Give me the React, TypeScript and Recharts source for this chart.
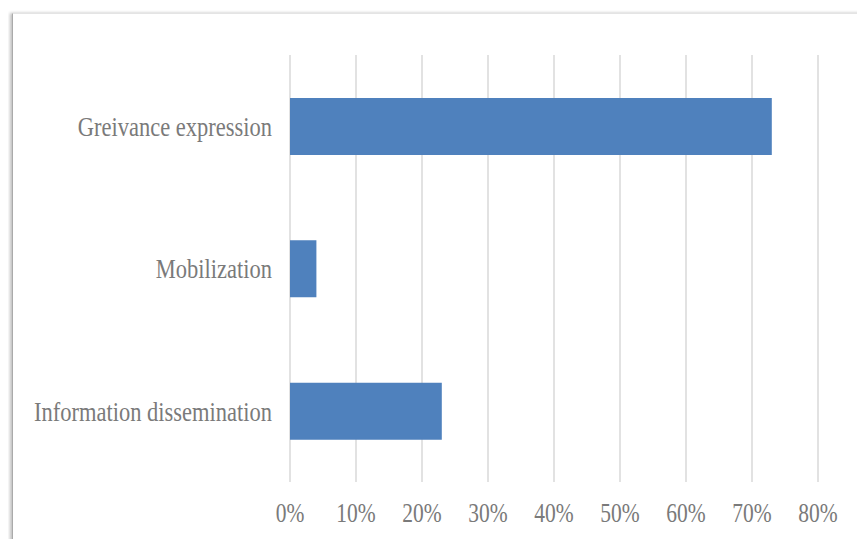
import React from 'react';
import { BarChart, Bar, XAxis, YAxis, CartesianGrid } from 'recharts';

const categories = ['Greivance expression', 'Mobilization', 'Information dissemination'];
const shares = [0.73, 0.04, 0.23];
const percentTicks = [0, 0.1, 0.2, 0.3, 0.4, 0.5, 0.6, 0.7, 0.8];

const data = categories.map((name, i) => ({ name, value: shares[i] }));

const labelFont = '"Liberation Serif", "Times New Roman", serif';
const labelColor = '#7a7a7a';

// Office-style labels come out slightly tall, so stretch the glyphs a bit vertically
function StretchedTick(props: any) {
  const { x, y, payload, anchor, dx = 0, dy = 0, format, size = 21, stretch = 1.3 } = props;
  const text = format ? format(payload.value) : payload.value;
  return (
    <g transform={`translate(${x + dx},${y + dy}) scale(1,${stretch})`}>
      <text
        x={0}
        y={0}
        dy="0.355em"
        textAnchor={anchor}
        fill={labelColor}
        fontSize={size}
        fontFamily={labelFont}
      >
        {text}
      </text>
    </g>
  );
}

const pct = (v: number) => `${Math.round(v * 100)}%`;

export default function App() {
  return (
    <div
      style={{
        position: 'relative',
        width: 865,
        height: 547,
        margin: -8,
        background: '#ffffff',
        overflow: 'hidden',
      }}
    >
      <div
        style={{
          position: 'absolute',
          left: 12,
          top: 13,
          width: 900,
          height: 600,
          borderLeft: '1px solid #aaaaaa',
          borderTop: '1px solid #e4e4e4',
          boxShadow: '-2px 0 3px rgba(0,0,0,0.25)',
          background: '#ffffff',
        }}
      />
      <div style={{ position: 'absolute', left: 0, top: 0 }}>
        <BarChart
          width={865}
          height={547}
          data={data}
          layout="vertical"
          margin={{ top: 55, right: 47, bottom: 15, left: 0 }}
        >
          <CartesianGrid horizontal={false} stroke="#d9d9d9" strokeWidth={1.5} />
          <XAxis
            type="number"
            domain={[0, 0.8]}
            ticks={percentTicks}
            interval={0}
            axisLine={false}
            tickLine={false}
            height={50}
            tick={<StretchedTick anchor="middle" dy={22} format={pct} size={21.5} />}
          />
          <YAxis
            type="category"
            dataKey="name"
            width={290}
            axisLine={false}
            tickLine={false}
            tick={<StretchedTick anchor="end" dx={-10} size={22.5} stretch={1.22} />}
          />
          <Bar dataKey="value" fill="#4f81bd" barSize={57} isAnimationActive={false} />
        </BarChart>
      </div>
    </div>
  );
}
